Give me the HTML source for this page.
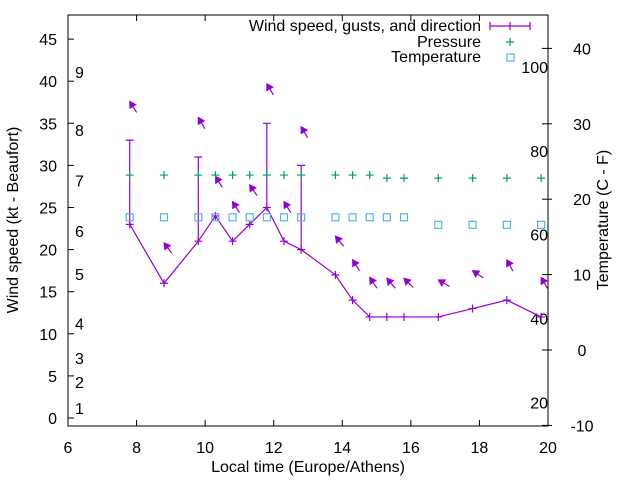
<!DOCTYPE html>
<html><head><meta charset="utf-8"><style>
body{margin:0;background:#fff}
svg{display:block;font-family:"Liberation Sans",sans-serif;font-size:16px}
</style></head><body>
<svg id="c" width="640" height="480"></svg>
<script>
const times=[7.8,8.8,9.8,10.3,10.8,11.3,11.8,12.3,12.8,13.8,14.3,14.8,15.3,15.8,16.8,17.8,18.8,19.8];
const windSpeed=[23,16,21,24,21,23,25,21,20,17,14,12,12,12,12,13,14,12];
const gustTimes=[7.8,9.8,11.8,12.8];
const gustLow=[23,21,25,20];
const gustHigh=[33,31,35,30];
const arrowLevel=[37.6,20.8,35.7,28.7,25.7,27.7,39.7,25.7,34.6,21.6,18.8,16.7,16.6,16.6,16.4,17.5,18.8,16.7];
const arrowDir=[328,323,330,328,328,326,330,328,330,321,328,326,320,315,300,304,332,330];
const pressure=[23.2,23.2,23.2,23.2,23.2,23.2,23.2,23.2,23.2,23.2,23.2,23.2,22.8,22.8,22.8,22.8,22.8,22.8];
const temperature=[17.6,17.6,17.6,17.6,17.6,17.6,17.6,17.6,17.6,17.6,17.6,17.6,17.6,17.6,16.6,16.6,16.6,16.6];
const xTicks=[6,8,10,12,14,16,18,20];
const yTicks=[0,5,10,15,20,25,30,35,40,45];
const y2Ticks=[-10,0,10,20,30,40];
const beaufortLabels=["1","2","3","4","5","6","7","8","9"];
const beaufortY=[1.2,4.3,7.1,11.2,17.1,22.2,28.2,34.2,41.1];
const fahrLabels=[20,40,60,80,100];

const L=68,R=548,T=15,B=426;
const X=v=>L+(v-6)*(R-L)/14;
const Y=v=>418-v*8.42;
const Y2=v=>350-v*7.54;
const F2C=f=>(f-32)*5/9;
const svg=document.getElementById('c');
const NS='http://www.w3.org/2000/svg';
function el(t,a,p){const e=document.createElementNS(NS,t);for(const k in a)e.setAttribute(k,a[k]);(p||svg).appendChild(e);return e;}
function txt(s,x,y,anchor,name,extra){const e=el('text',Object.assign({x:x,y:y,'text-anchor':anchor||'middle',fill:'#000'},extra||{}));e.textContent=s;


return e;}

// frame
const fr=el('rect',{x:L,y:T,width:R-L,height:B-T,fill:'none',stroke:'#000','stroke-width':1});


xTicks.forEach(v=>{
  el('line',{x1:X(v),x2:X(v),y1:B,y2:B-6,stroke:'#000'});
  el('line',{x1:X(v),x2:X(v),y1:T,y2:T+6,stroke:'#000'});
  txt(String(v),X(v),453,'middle','x-tick-label');
});
yTicks.forEach(v=>{
  el('line',{x1:L,x2:L+6,y1:Y(v),y2:Y(v),stroke:'#000'});
  txt(String(v),57,Y(v)+6,'end','y-tick-label');
});
y2Ticks.forEach(v=>{
  el('line',{x1:R,x2:R-6,y1:Y2(v),y2:Y2(v),stroke:'#000'});
  el('line',{x1:R,x2:R+4,y1:Y2(v),y2:Y2(v),stroke:'#000'});
  txt(String(v),582,Y2(v)+6,'middle','y2-tick-label');
});
beaufortLabels.forEach((s,i)=>txt(s,75,Y(beaufortY[i])+6,'start','beaufort-label'));
fahrLabels.forEach(f=>txt(String(f),548,Y2(F2C(f))+8,'end','fahrenheit-label'));

txt('Local time (Europe/Athens)',308,472,'middle','x-axis-title');
txt('Wind speed (kt - Beaufort)',0,0,'middle','y-axis-title',{transform:'translate(18,220) rotate(-90)'});
txt('Temperature (C - F)',0,0,'middle','y2-axis-title',{transform:'translate(608,220) rotate(-90)'});

const purple='#9400d3',green='#009e73',blue='#56b4e9';
// wind line
const pl=el('polyline',{points:times.map((t,i)=>X(t)+','+Y(windSpeed[i])).join(' '),fill:'none',stroke:purple,'stroke-width':1.2});


times.forEach((t,i)=>{
  const g=el('path',{d:`M${X(t)-4},${Y(windSpeed[i])}h8M${X(t)},${Y(windSpeed[i])-4}v8`,stroke:purple,'stroke-width':1.2});
  
  
});
gustTimes.forEach((t,i)=>{
  const g=el('path',{d:`M${X(t)},${Y(gustLow[i])}V${Y(gustHigh[i])}M${X(t)-4},${Y(gustHigh[i])}h8`,stroke:purple,'stroke-width':1.2,fill:'none'});
  
  
});
// arrows
times.forEach((t,i)=>{
  const tx=X(t),ty=Y(arrowLevel[i]);
  const a=arrowDir[i]*Math.PI/180, ux=Math.sin(a), uy=-Math.cos(a);
  const len=13, hl=6, hw=3.5;
  const sx=tx-ux*len, sy=ty-uy*len;
  const bx=tx-ux*hl, by=ty-uy*hl, px=-uy, py=ux;
  const g=el('g',{});
  
  
  el('line',{x1:sx,y1:sy,x2:tx,y2:ty,stroke:purple,'stroke-width':1.2},g);
  el('polygon',{points:`${tx},${ty} ${bx+px*hw},${by+py*hw} ${bx-px*hw},${by-py*hw}`,fill:purple,stroke:purple},g);
});
// pressure
times.forEach((t,i)=>{
  const g=el('path',{d:`M${X(t)-4},${Y2(pressure[i])}h8M${X(t)},${Y2(pressure[i])-4}v8`,stroke:green,'stroke-width':1.2});
  
  
});
times.forEach((t,i)=>{
  const g=el('rect',{x:X(t)-3.5,y:Y2(temperature[i])-3.5,width:7,height:7,fill:'none',stroke:blue,'stroke-width':1.2});
  
  
});
// legend
const lg=el('g',{});


txt('Wind speed, gusts, and direction',481,31,'end','legend-wind-label');
el('path',{d:'M490,26h40M490,22v8M530,22v8M510,22v8',stroke:purple,'stroke-width':1.2},lg);
txt('Pressure',481,47,'end','legend-pressure-label');
el('path',{d:'M506,42h8M510,38v8',stroke:green,'stroke-width':1.2},lg);
txt('Temperature',481,62,'end','legend-temperature-label');
el('rect',{x:507,y:54,width:7,height:7,fill:'none',stroke:blue,'stroke-width':1.2},lg);
</script>
</body></html>
